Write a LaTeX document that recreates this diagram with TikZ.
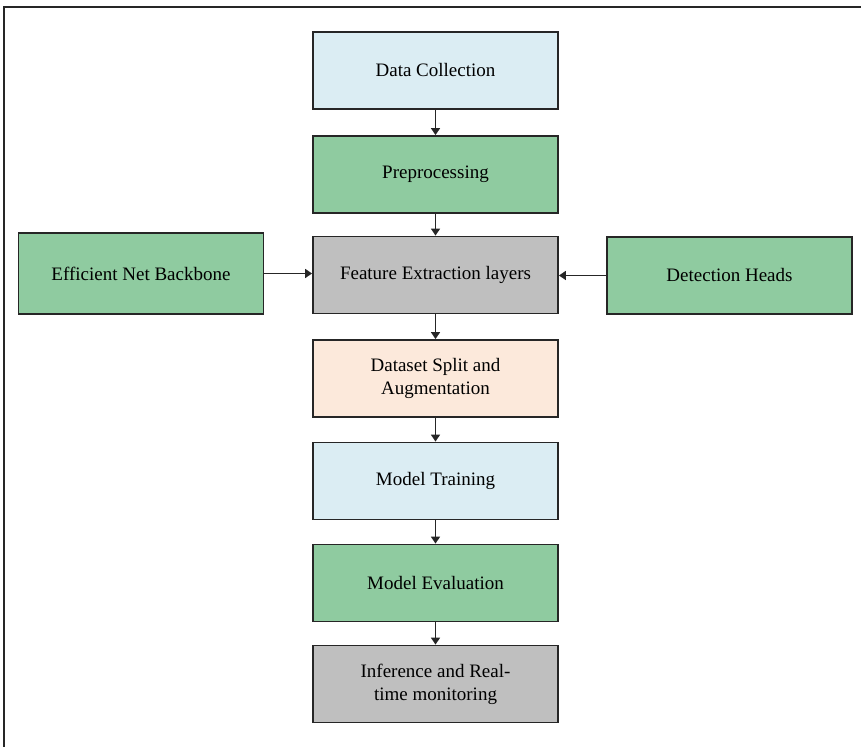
\documentclass[tikz,border=0pt]{standalone}
\usepackage{fontspec}
\setmainfont{Liberation Serif}
\usetikzlibrary{arrows.meta}
\definecolor{lblue}{RGB}{219,237,243}
\definecolor{lgreen}{RGB}{143,203,160}
\definecolor{lgray}{RGB}{191,191,191}
\definecolor{lpeach}{RGB}{252,233,219}
\begin{document}
\begin{tikzpicture}[x=0.5pt, y=-0.5pt, every node/.style={font=\fontsize{9.5pt}{11.5pt}\selectfont},
  stage/.style={draw=black!85,line width=0.9pt,minimum width=122.5pt,minimum height=38.5pt,align=center,inner sep=2pt},
  flow/.style={-{Triangle[length=3.5pt,width=4.5pt]},line width=0.75pt,black!85}]
\useasboundingbox (0,0) rectangle (861,747);
% frame (only top and left edge show)
\draw[line width=1.2pt,black!85] (861,7) -- (4,7) -- (4,747);
\node[stage,fill=lblue] (dc) at (435.5,70.5) {Data Collection};
\node[stage,fill=lgreen] (prep) at (435.5,174.5) {Preprocessing};
\node[stage,fill=lgray] (feat) at (435.5,275) {Feature Extraction layers};
\node[stage,fill=lgreen,minimum height=40.5pt] (backbone) at (141,273.5) {Efficient Net Backbone};
\node[stage,fill=lgreen] (heads) at (729.5,275.5) {Detection Heads};
\node[stage,fill=lpeach] (split) at (435.5,378.5) {Dataset Split and\\Augmentation};
\node[stage,fill=lblue] (train) at (435.5,481) {Model Training};
\node[stage,fill=lgreen] (eval) at (435.5,583) {Model Evaluation};
\node[stage,fill=lgray] (infer) at (435.5,684) {Inference and Real-\\time monitoring};
\draw[flow] (dc) -- (prep);
\draw[flow] (prep) -- (feat);
\draw[flow] (backbone) -- (backbone -| feat.west);
\draw[flow] (heads) -- (heads -| feat.east);
\draw[flow] (feat) -- (split);
\draw[flow] (split) -- (train);
\draw[flow] (train) -- (eval);
\draw[flow] (eval) -- (infer);
\end{tikzpicture}
\end{document}
